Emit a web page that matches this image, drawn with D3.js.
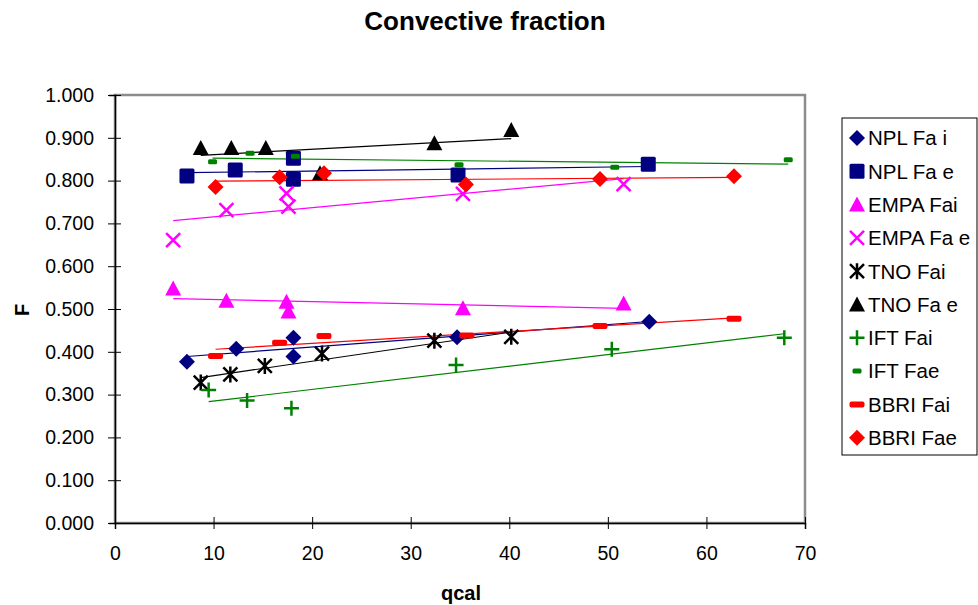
<!DOCTYPE html>
<html><head><meta charset="utf-8">
<script src="https://cdn.jsdelivr.net/npm/d3@7"></script>
<style>body{margin:0;background:#fff}svg{display:block}text{font-family:"Liberation Sans",Arial,sans-serif}</style>
</head><body><svg id="c" width="978" height="605"></svg>
<script>
const seriesNames = ["NPL Fa i","NPL Fa e","EMPA Fai","EMPA Fa e","TNO Fai","TNO Fa e","IFT Fai","IFT Fae","BBRI Fai","BBRI Fae"];
const nplFaiX = [7.3, 12.3, 18.1, 18.1, 34.7, 54.2];
const nplFaiY = [0.377, 0.407, 0.433, 0.389, 0.434, 0.470];
const nplFaeX = [7.3, 12.2, 18.1, 18.1, 34.8, 54.1];
const nplFaeY = [0.811, 0.825, 0.852, 0.803, 0.813, 0.838];
const empaFaiX = [5.9, 11.3, 17.4, 17.6, 35.3, 51.6];
const empaFaiY = [0.548, 0.519, 0.517, 0.494, 0.502, 0.513];
const empaFaeX = [5.9, 11.3, 17.4, 17.6, 35.3, 51.6];
const empaFaeY = [0.661, 0.731, 0.770, 0.739, 0.769, 0.792];
const tnoFaiX = [8.7, 11.7, 15.2, 21.0, 32.4, 40.2];
const tnoFaiY = [0.328, 0.347, 0.367, 0.396, 0.426, 0.435];
const tnoFaeX = [8.7, 11.8, 15.3, 20.8, 32.4, 40.2];
const tnoFaeY = [0.876, 0.876, 0.876, 0.817, 0.887, 0.918];
const iftFaiX = [9.5, 13.4, 17.9, 34.6, 50.4, 67.9];
const iftFaiY = [0.311, 0.286, 0.268, 0.369, 0.406, 0.433];
const iftFaeX = [9.9, 13.7, 18.3, 34.9, 50.7, 68.3];
const iftFaeY = [0.844, 0.864, 0.857, 0.837, 0.831, 0.849];
const bbriFaiX = [10.2, 16.7, 21.2, 35.7, 49.2, 62.8];
const bbriFaiY = [0.390, 0.421, 0.437, 0.438, 0.460, 0.477];
const bbriFaeX = [10.2, 16.7, 21.2, 35.6, 49.2, 62.8];
const bbriFaeY = [0.785, 0.808, 0.817, 0.791, 0.804, 0.810];
const xTicks = [0,10,20,30,40,50,60,70];
const yTicks = [0,0.1,0.2,0.3,0.4,0.5,0.6,0.7,0.8,0.9,1.0];

const seriesX = [nplFaiX,nplFaeX,empaFaiX,empaFaeX,tnoFaiX,tnoFaeX,iftFaiX,iftFaeX,bbriFaiX,bbriFaeX];
const seriesY = [nplFaiY,nplFaeY,empaFaiY,empaFaeY,tnoFaiY,tnoFaeY,iftFaiY,iftFaeY,bbriFaiY,bbriFaeY];
const colors = ["#000080","#000080","#FF00FF","#FF00FF","#000000","#000000","#008000","#008000","#FF0000","#FF0000"];
const shapes = ["diamond","square","triangle","x","asterisk","triangle","plus","smalldash","dash","diamond"];

const svg = d3.select("#c");
const L=115,R=805,T=95,B=523;
const x = d3.scaleLinear().domain([0,70]).range([L,R]);
const y = d3.scaleLinear().domain([0,1]).range([B,T]);

// title
svg.append("text").attr("x",485).attr("y",30).attr("text-anchor","middle")
  .attr("font-size",26).attr("font-weight","bold").text("Convective fraction");

// plot border
svg.append("rect").attr("x",L).attr("y",T).attr("width",R-L).attr("height",B-T)
  .attr("fill","none").attr("stroke","#8c8c8c").attr("stroke-width",2.5);

// axes
const xa = svg.append("g").attr("transform",`translate(0,${B})`)
  .call(d3.axisBottom(x).tickValues(xTicks).tickSize(6).tickPadding(14));
const ya = svg.append("g").attr("transform",`translate(${L},0)`)
  .call(d3.axisLeft(y).tickValues(yTicks).tickSize(6).tickFormat(d3.format(".3f")).tickPadding(15));
[xa,ya].forEach(a=>{
  a.select(".domain").attr("stroke","#000").attr("stroke-width",1.5);
  a.selectAll(".tick text").attr("font-size",19.5).attr("fill","#000")
   .attr("font-family","'Liberation Sans',Arial,sans-serif");
  a.selectAll(".tick line").attr("stroke","#000");
});
xa.selectAll(".tick line").attr("y1",-6).attr("y2",6);
ya.selectAll(".tick line").attr("x1",-7).attr("x2",6);
xa.selectAll(".tick text").attr("dy","0.85em");

svg.append("text").attr("x",461).attr("y",600).attr("text-anchor","middle")
  .attr("font-size",20).attr("font-weight","bold").text("qcal");
svg.append("text").attr("transform","translate(29,310) rotate(-90)").attr("text-anchor","middle")
  .attr("font-size",20).attr("font-weight","bold").text("F");

// trendlines
const plot = svg.append("g");
seriesX.forEach((xs,i)=>{
  const ys = seriesY[i];
  const n = xs.length, mx = d3.mean(xs), my = d3.mean(ys);
  let sxy=0,sxx=0;
  for(let k=0;k<n;k++){sxy+=(xs[k]-mx)*(ys[k]-my);sxx+=(xs[k]-mx)**2;}
  const b = sxy/sxx, a = my-b*mx;
  const x0=d3.min(xs), x1=d3.max(xs);
  plot.append("line").attr("x1",x(x0)).attr("y1",y(a+b*x0)).attr("x2",x(x1)).attr("y2",y(a+b*x1))
    .attr("stroke",colors[i]).attr("stroke-width",1.2);
});

function marker(g,shape,cx,cy,col){
  switch(shape){
    case "diamond": g.append("path").attr("d",`M${cx},${cy-8}L${cx+8},${cy}L${cx},${cy+8}L${cx-8},${cy}Z`).attr("fill",col); break;
    case "square": g.append("rect").attr("x",cx-7.5).attr("y",cy-7.5).attr("width",15).attr("height",15).attr("rx",1.5).attr("fill",col); break;
    case "triangle": g.append("path").attr("d",`M${cx},${cy-8}L${cx+8},${cy+7}L${cx-8},${cy+7}Z`).attr("fill",col); break;
    case "x": g.append("path").attr("d",`M${cx-7},${cy-7}L${cx+7},${cy+7}M${cx+7},${cy-7}L${cx-7},${cy+7}`).attr("stroke",col).attr("stroke-width",2.5).attr("fill","none"); break;
    case "asterisk": g.append("path").attr("d",`M${cx-7},${cy-7}L${cx+7},${cy+7}M${cx+7},${cy-7}L${cx-7},${cy+7}M${cx},${cy-8}L${cx},${cy+8}`).attr("stroke",col).attr("stroke-width",2.5).attr("fill","none"); break;
    case "plus": g.append("path").attr("d",`M${cx-7.5},${cy}L${cx+7.5},${cy}M${cx},${cy-7.5}L${cx},${cy+7.5}`).attr("stroke",col).attr("stroke-width",2.5).attr("fill","none"); break;
    case "smalldash": g.append("rect").attr("x",cx-4.5).attr("y",cy-2.5).attr("width",9).attr("height",5).attr("rx",1.5).attr("fill",col); break;
    case "dash": g.append("rect").attr("x",cx-7.5).attr("y",cy-3).attr("width",15).attr("height",6).attr("rx",2).attr("fill",col); break;
  }
}
seriesX.forEach((xs,i)=>{
  xs.forEach((v,k)=>marker(plot,shapes[i],x(v),y(seriesY[i][k]),colors[i]));
});

// legend
const lg = svg.append("g");
lg.append("rect").attr("x",842).attr("y",118).attr("width",135).attr("height",337)
  .attr("fill","#fff").attr("stroke","#000").attr("stroke-width",1);
seriesNames.forEach((nm,i)=>{
  const cy = 138 + i*33.3;
  marker(lg,shapes[i],857,cy,colors[i]);
  lg.append("text").attr("x",868).attr("y",cy).attr("dy","0.36em").attr("font-size",20.5).text(nm);
});
</script></body></html>
